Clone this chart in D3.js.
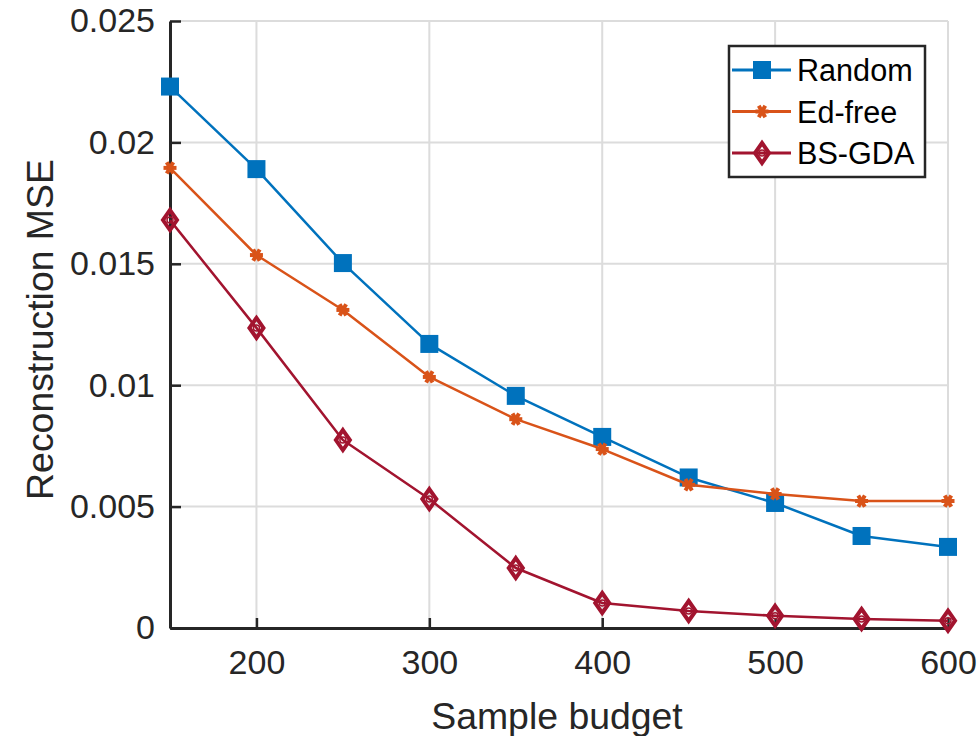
<!DOCTYPE html>
<html>
<head>
<meta charset="utf-8">
<script src="https://cdn.jsdelivr.net/npm/d3@7"></script>
<style>
  html, body { margin: 0; padding: 0; background: #fff; }
  svg { display: block; font-family: "Liberation Sans", Arial, Helvetica, sans-serif; }
</style>
</head>
<body>
<svg id="chart" width="977" height="736"></svg>
<script>
// Sample budgets (x) and reconstruction MSE per method
const budgets = [150, 200, 250, 300, 350, 400, 450, 500, 550, 600];
const randomMSE = [0.0223, 0.0189, 0.01503, 0.0117, 0.00956, 0.00787, 0.0062, 0.00515, 0.00379, 0.00334];
const edFreeMSE = [0.01895, 0.01536, 0.0131, 0.01034, 0.0086, 0.00737, 0.0059, 0.00552, 0.00523, 0.00523];
const bsgdaMSE  = [0.0168, 0.01236, 0.00774, 0.00531, 0.00247, 0.00103, 0.0007, 0.0005, 0.00037, 0.0003];
const seriesNames = ["Random", "Ed-free", "BS-GDA"];
const xTicks = [200, 300, 400, 500, 600];
const yTicks = [0, 0.005, 0.01, 0.015, 0.02, 0.025];
const yTickLabels = ["0", "0.005", "0.01", "0.015", "0.02", "0.025"];

const colors = { "Random": "#0072BD", "Ed-free": "#D95319", "BS-GDA": "#A2142F" };
const series = [
  { name: seriesNames[0], values: randomMSE, marker: "square" },
  { name: seriesNames[1], values: edFreeMSE, marker: "star" },
  { name: seriesNames[2], values: bsgdaMSE, marker: "diamond" }
];

const svg = d3.select("#chart");
const plotLeft = 170, plotRight = 948, plotTop = 21, plotBottom = 628;

const x = d3.scaleLinear().domain([150, 600]).range([plotLeft, plotRight]);
const y = d3.scaleLinear().domain([0, 0.025]).range([plotBottom, plotTop]);

// grid
const grid = svg.append("g");
grid.selectAll("line.vg").data(xTicks).join("line")
  .attr("x1", d => x(d)).attr("x2", d => x(d))
  .attr("y1", plotTop).attr("y2", plotBottom)
  .attr("stroke", "#dcdcdc").attr("stroke-width", 2);
grid.selectAll("line.hg").data(yTicks.filter(d => d > 0)).join("line")
  .attr("x1", plotLeft).attr("x2", plotRight)
  .attr("y1", d => y(d)).attr("y2", d => y(d))
  .attr("stroke", "#dcdcdc").attr("stroke-width", 2);

// axes
const axisColor = "#262626";
const xAxis = d3.axisBottom(x).tickValues(xTicks).tickSizeInner(-10).tickSizeOuter(0).tickPadding(22)
  .tickFormat(d3.format("d"));
const gx = svg.append("g").attr("transform", `translate(0,${plotBottom})`).call(xAxis);
gx.select(".domain").attr("stroke", axisColor).attr("stroke-width", 3);
gx.selectAll(".tick line").attr("stroke", axisColor).attr("stroke-width", 2.5);
gx.selectAll(".tick text").attr("fill", "#262626").attr("font-size", 34).attr("font-family", null);

const yAxis = d3.axisLeft(y).tickValues(yTicks).tickSizeInner(-11).tickSizeOuter(0).tickPadding(15)
  .tickFormat((d, i) => yTickLabels[i]);
const gy = svg.append("g").attr("transform", `translate(${plotLeft},0)`).call(yAxis);
gy.select(".domain").attr("stroke", axisColor).attr("stroke-width", 3);
gy.selectAll(".tick line").attr("stroke", axisColor).attr("stroke-width", 2.5);
gy.selectAll(".tick text").attr("fill", "#262626").attr("font-size", 34).attr("font-family", null);

// axis titles
svg.append("text").attr("x", (plotLeft + plotRight) / 2 - 2).attr("y", 729)
  .attr("text-anchor", "middle").attr("font-size", 37.4).attr("fill", "#262626")
  .text("Sample budget");
svg.append("text").attr("transform", `translate(53,${(plotTop + plotBottom) / 2 + 5}) rotate(-90)`)
  .attr("text-anchor", "middle").attr("font-size", 37.4).attr("fill", "#262626")
  .text("Reconstruction MSE");

// markers
function drawMarker(g, type, color) {
  if (type === "square") {
    g.append("rect").attr("x", -9).attr("y", -9).attr("width", 18).attr("height", 18)
      .attr("fill", color);
  } else if (type === "star") {
    const r = 6.5;
    [0, 60, 120].forEach(a => {
      const t = a * Math.PI / 180;
      g.append("line")
        .attr("x1", -r * Math.cos(t)).attr("y1", -r * Math.sin(t))
        .attr("x2", r * Math.cos(t)).attr("y2", r * Math.sin(t))
        .attr("stroke", color).attr("stroke-width", 4);
    });
  } else {
    g.append("path").attr("d", "M0,-10 L7,0 L0,10 L-7,0 Z")
      .attr("fill", "none").attr("stroke", color).attr("stroke-width", 4);
    g.append("circle").attr("r", 3).attr("fill", "none").attr("stroke", color).attr("stroke-width", 1.5);
  }
}

const line = d3.line().x(d => x(d[0])).y(d => y(d[1]));
series.forEach(s => {
  const pts = budgets.map((b, i) => [b, s.values[i]]);
  svg.append("path").datum(pts).attr("d", line)
    .attr("fill", "none").attr("stroke", colors[s.name]).attr("stroke-width", 2.5)
    .attr("stroke-linejoin", "round");
  pts.forEach(p => {
    const g = svg.append("g").attr("transform", `translate(${x(p[0])},${y(p[1])})`);
    drawMarker(g, s.marker, colors[s.name]);
  });
});

// legend
const legend = svg.append("g");
legend.append("rect").attr("x", 729).attr("y", 46).attr("width", 196).attr("height", 131)
  .attr("fill", "#fff").attr("stroke", axisColor).attr("stroke-width", 2.5);
series.forEach((s, i) => {
  const cy = 70 + i * 41.5;
  legend.append("line").attr("x1", 732).attr("x2", 791).attr("y1", cy).attr("y2", cy)
    .attr("stroke", colors[s.name]).attr("stroke-width", 3);
  const g = legend.append("g").attr("transform", `translate(762,${cy})`);
  drawMarker(g, s.marker, colors[s.name]);
  legend.append("text").attr("x", 797).attr("y", cy + 11).attr("font-size", 30.6)
    .attr("fill", "#000").text(s.name);
});
</script>
</body>
</html>
